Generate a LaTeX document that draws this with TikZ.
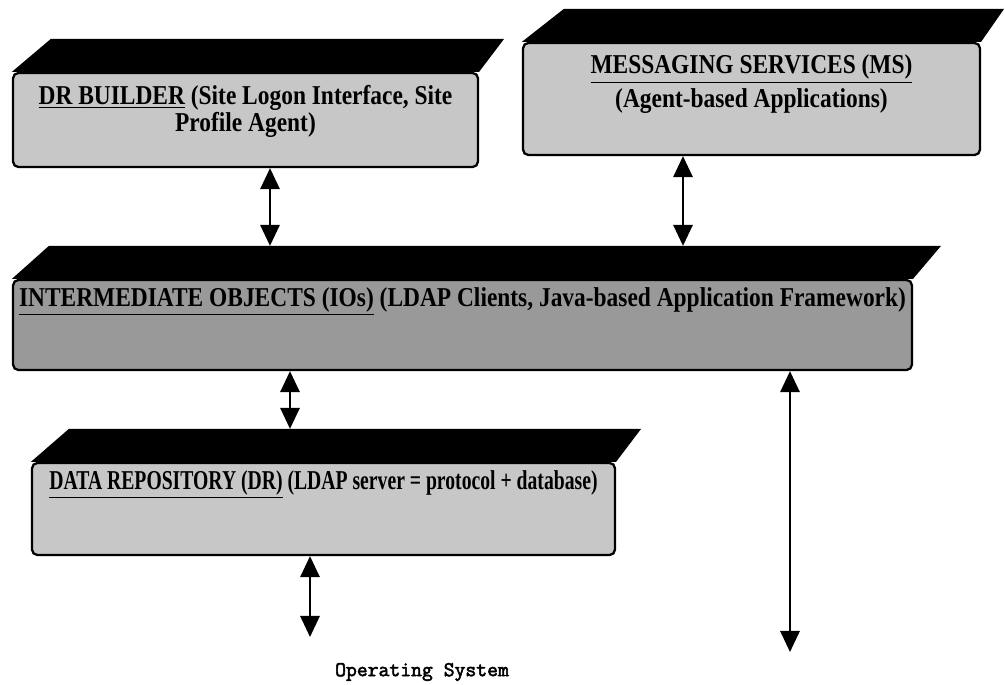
\documentclass[tikz,border=0pt]{standalone}
\usepackage{fontspec}
\setmainfont{Liberation Serif}[FakeStretch=0.86]
\newfontfamily\osfont{Latin Modern Mono}[FakeBold=2.5]
\usetikzlibrary{positioning,calc,arrows.meta}

% black slanted top of a layer box: node, left shift, right shift, depth
\newcommand{\topface}[4]{%
  \fill[black] (#1.north west) -- ++(#2,-#4) -- ($(#1.north east)+(#3,-#4)$) -- (#1.north east) -- cycle;}

\begin{document}
\begin{tikzpicture}[x=0.02cm,y=-0.02cm,>={Triangle[length=12pt,width=11pt]},
  layer/.style={rectangle,draw=black,line width=1.3pt,rounded corners=3pt,inner sep=0pt},
  lighttex/.style={layer,fill=black!22},
  darktex/.style={layer,fill=black!40},
  boxtext/.style={font=\bfseries\fontsize{15.5}{15}\selectfont,align=center,inner sep=0pt},
  link/.style={<->,line width=1.3pt}]

    \useasboundingbox (0,0) rectangle (1005,685);

    % The layers
	\node [lighttex,minimum width=9.30cm,minimum height=1.88cm] (drb) at (245.5,120) {};
	\node [lighttex,minimum width=9.14cm,minimum height=2.24cm] (ms) at (751.5,99) {};
	\node [darktex,minimum width=17.98cm,minimum height=1.80cm] (io) at (462.5,325) {};
	\node [lighttex,minimum width=11.66cm,minimum height=1.84cm] (dr) at (323.5,509) {};

	\topface{drb}{39}{25}{33}
	\topface{ms}{42}{23}{33}
	\topface{io}{37}{28}{33}
	\topface{dr}{38}{25}{33}

	% Layer texts
	\node [boxtext,below=0.27cm of drb.north] (drbt) {\underline{DR BUILDER} (Site Logon Interface, Site\\Profile Agent)};
	\node [boxtext,below=0.25cm of ms.north] (mst) {\underline{MESSAGING SERVICES (MS)}\\[2pt](Agent-based Applications)};
	\node [boxtext,below=0.16cm of io.north] (iot) {\underline{INTERMEDIATE OBJECTS (IOs)} (LDAP Clients, Java-based Application Framework)};
	\node [boxtext,below=0.16cm of dr.north] (drt) {\scalebox{0.84}[1]{\underline{DATA REPOSITORY (DR)} (LDAP server = protocol + database)}};

	\node [font=\osfont\fontsize{12}{14}\selectfont] (os) at (422,672) {Operating System};

	% Links
	\coordinate (io-back) at ($(io.north)+(0,-33)$);
	\coordinate (dr-back) at ($(dr.north)+(0,-33)$);
	\coordinate (a1) at (270,0);
	\coordinate (a2) at (683,0);
	\coordinate (a3) at (290,0);
	\coordinate (a4) at (310,0);
	\coordinate (a5) at (790,0);
	\coordinate (os1) at (310,637);
	\coordinate (os2) at (790,652);

	\draw [link] (drb.south -| a1) -- (io-back -| a1);
	\draw [link] (ms.south -| a2) -- (io-back -| a2);
	\draw [link] (io.south -| a3) -- (dr-back -| a3);
	\draw [link] (dr.south -| a4) -- (os1);
	\draw [link] (io.south -| a5) -- (os2);

\end{tikzpicture}
\end{document}
